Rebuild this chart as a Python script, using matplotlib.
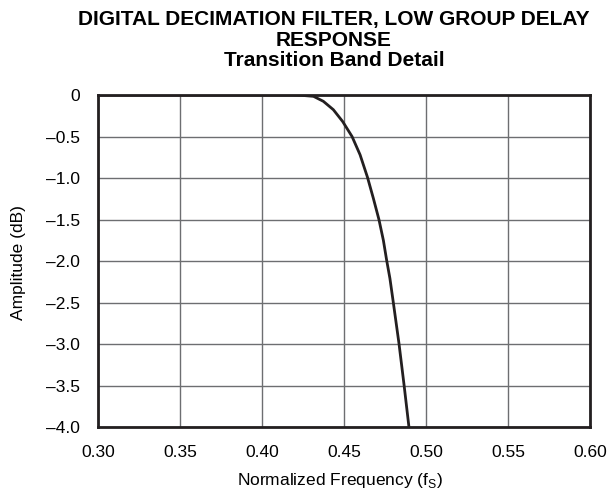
import matplotlib
matplotlib.use("Agg")
import matplotlib.pyplot as plt

freq = [0.30, 0.40, 0.418, 0.424, 0.4314, 0.4374, 0.4435, 0.4492, 0.4549, 0.4598,
        0.4643, 0.4679, 0.4713, 0.4740, 0.4760, 0.4780, 0.4800, 0.4835, 0.4866, 0.4896]
amp_db = [0.0, 0.0, 0.0, -0.004, -0.016, -0.076, -0.177, -0.32, -0.50, -0.72,
          -0.99, -1.245, -1.50, -1.75, -1.99, -2.21, -2.49, -2.99, -3.49, -4.0]

xticks = [0.30, 0.35, 0.40, 0.45, 0.50, 0.55, 0.60]
xticklabels = ["0.30", "0.35", "0.40", "0.45", "0.50", "0.55", "0.60"]
yticks = [0, -0.5, -1.0, -1.5, -2.0, -2.5, -3.0, -3.5, -4.0]
yticklabels = ["0", "\u20130.5", "\u20131.0", "\u20131.5", "\u20132.0", "\u20132.5",
               "\u20133.0", "\u20133.5", "\u20134.0"]

plt.rcParams['font.family'] = ['Liberation Sans', 'DejaVu Sans']

W, H = 608, 498
fig = plt.figure(figsize=(W/100, H/100), dpi=100)
ax = fig.add_axes([98/W, 1-427/H, (590-98)/W, (427-95)/H])

ax.plot(freq, amp_db, color="#231f20", linewidth=2.0, solid_capstyle="butt",
        solid_joinstyle="round", zorder=3)

ax.set_xlim(0.30, 0.60)
ax.set_ylim(-4.0, 0)
ax.set_xticks(xticks)
ax.set_xticklabels(xticklabels, fontsize=12.5)
ax.set_yticks(yticks)
ax.set_yticklabels(yticklabels, fontsize=12.5)
ax.tick_params(axis="x", length=0, pad=13)
ax.tick_params(axis="y", length=0, pad=13)
ax.grid(True, color="#6d6e71", linewidth=1.0)
for s in ax.spines.values():
    s.set_linewidth(2.0)
    s.set_color("#231f20")
    s.set_zorder(4)

fig.text(340/W, 1-485/H, "Normalized Frequency (f$_\\mathregular{S}$)", ha="center",
         va="baseline", fontsize=12.5)
fig.text(19/W, 1-263/H, "Amplitude (dB)", ha="center", va="center", rotation=90,
         fontsize=12.5)

cx = 334/W
fig.text(cx, 1-25.5/H, "DIGITAL DECIMATION FILTER, LOW GROUP DELAY", ha="center",
         va="baseline", fontsize=15, fontweight="bold")
fig.text(cx, 1-45.5/H, "RESPONSE", ha="center", va="baseline", fontsize=15,
         fontweight="bold")
fig.text(cx, 1-66/H, "Transition Band Detail", ha="center", va="baseline", fontsize=15,
         fontweight="bold")

fig.savefig("out.png", dpi=100)
